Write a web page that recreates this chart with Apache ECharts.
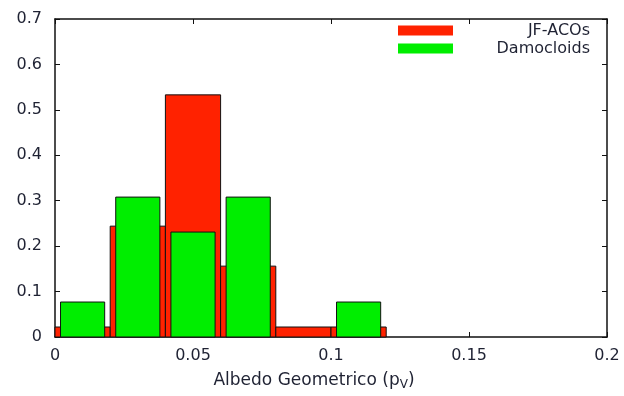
<!DOCTYPE html>
<html>
<head>
<meta charset="utf-8">
<script src="https://cdn.jsdelivr.net/npm/echarts@6/dist/echarts.min.js"></script>
<style>
  html, body { margin: 0; padding: 0; background: #fff; }
  #chart { width: 624px; height: 396px; }
</style>
</head>
<body>
<div id="chart"></div>
<script>
// Albedo bin centres (bins 0.02 wide)
const jfBinCentres = [0.01, 0.03, 0.05, 0.07, 0.09, 0.11];
// Normalised frequency of Jupiter-family ACOs per bin
const jfFraction = [0.022, 0.244, 0.533, 0.156, 0.022, 0.022];

const damBinCentres = [0.01, 0.03, 0.05, 0.07, 0.11];
// Normalised frequency of Damocloids per bin
const damFraction = [0.077, 0.308, 0.231, 0.308, 0.077];

const xTicks = { min: 0, max: 0.2, step: 0.05 };
const yTicks = { min: 0, max: 0.7, step: 0.1 };

const FONT = 'DejaVu Sans';
const TEXT_COLOR = '#1f2233';

function boxSeries(name, centres, values, boxWidth, color) {
  return {
    name: name,
    type: 'custom',
    itemStyle: { color: color, borderColor: '#111', borderWidth: 1 },
    data: centres.map((c, i) => [c, values[i]]),
    encode: { x: 0, y: 1 },
    renderItem: function (params, api) {
      const c = api.value(0);
      const h = api.value(1);
      const p0 = api.coord([c - boxWidth / 2, h]);
      const p1 = api.coord([c + boxWidth / 2, 0]);
      return {
        type: 'rect',
        shape: { x: p0[0], y: p0[1], width: p1[0] - p0[0], height: p1[1] - p0[1] },
        style: { fill: color, stroke: '#111', lineWidth: 1 }
      };
    }
  };
}

const numFmt = v => String(+v.toFixed(2));

const axisLine = { show: true, onZero: false, lineStyle: { color: '#111', width: 1.5 } };
const axisTick = { show: true, inside: true, length: 5, lineStyle: { color: '#111', width: 1 } };
const labelStyle = { color: TEXT_COLOR, fontFamily: FONT, fontSize: 16 };

const chart = echarts.init(document.getElementById('chart'), null, { renderer: 'canvas' });
chart.setOption({
  animation: false,
  backgroundColor: '#fff',
  grid: { left: 55, right: 17, top: 19, bottom: 52 },
  legend: {
    data: ['JF-ACOs', 'Damocloids'],
    orient: 'vertical',
    left: 393,
    top: 17,
    itemWidth: 55,
    itemHeight: 10,
    itemGap: 1,
    icon: 'rect',
    itemStyle: { borderWidth: 0 },
    formatter: name => '{r|' + name + '}',
    textStyle: {
      color: TEXT_COLOR, fontFamily: FONT, fontSize: 16, lineHeight: 17,
      rich: {
        r: { width: 132, align: 'right', color: TEXT_COLOR, fontFamily: FONT, fontSize: 16, lineHeight: 17 }
      }
    }
  },
  xAxis: [
    {
      type: 'value', min: xTicks.min, max: xTicks.max, interval: xTicks.step,
      position: 'bottom',
      axisLine: axisLine, axisTick: axisTick, splitLine: { show: false },
      axisLabel: Object.assign({ margin: 11, formatter: numFmt }, labelStyle),
      name: '{a|Albedo Geometrico (p}{s|V}{a|)}',
      nameLocation: 'middle',
      nameGap: 34,
      nameTextStyle: {
        padding: [0, 34, 0, 0],
        rich: {
          a: { fontFamily: FONT, fontSize: 17, color: TEXT_COLOR },
          s: { fontFamily: FONT, fontSize: 12, color: TEXT_COLOR, padding: [8, 0, 0, 0] }
        }
      }
    },
    {
      type: 'value', min: xTicks.min, max: xTicks.max, interval: xTicks.step,
      position: 'top',
      axisLine: axisLine, axisTick: axisTick, splitLine: { show: false },
      axisLabel: { show: false }
    }
  ],
  yAxis: [
    {
      type: 'value', min: yTicks.min, max: yTicks.max, interval: yTicks.step,
      position: 'left',
      axisLine: axisLine, axisTick: axisTick, splitLine: { show: false },
      axisLabel: Object.assign({ margin: 13, formatter: numFmt }, labelStyle)
    },
    {
      type: 'value', min: yTicks.min, max: yTicks.max, interval: yTicks.step,
      position: 'right',
      axisLine: axisLine, axisTick: axisTick, splitLine: { show: false },
      axisLabel: { show: false }
    }
  ],
  series: [
    boxSeries('JF-ACOs', jfBinCentres, jfFraction, 0.02, '#ff2200'),
    boxSeries('Damocloids', damBinCentres, damFraction, 0.016, '#00ee00')
  ]
});
</script>
</body>
</html>
